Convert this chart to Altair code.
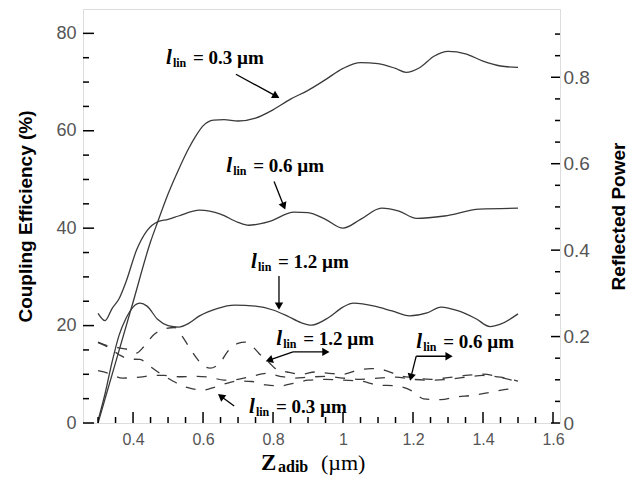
import altair as alt
import pandas as pd

W, H = 477, 414
XDOM = [0.257, 1.62]
YL = [0, 85]
YR = [0, 0.958]
INK = "#3a3a3a"

# ---- solid curves: coupling efficiency (%) ----
x_s03 = [0.30,0.35,0.40,0.45,0.47,0.50,0.53,0.56,0.58,0.60,0.63,0.66,0.70,0.75,0.80,0.85,0.90,0.95,1.00,1.05,1.10,1.15,1.18,1.22,1.26,1.30,1.35,1.40,1.45,1.50]
ce_s03 = [0,12.4,24.8,37.2,41.2,47,52,56.5,59,61,62.2,62.3,62,62.6,64.3,66.5,68.3,70.5,72.8,74,73.8,72.8,72,73,75.3,76.3,75.8,74.3,73.3,73]

x_s06 = [0.30,0.32,0.34,0.36,0.38,0.41,0.44,0.47,0.50,0.53,0.59,0.65,0.70,0.73,0.79,0.86,0.90,0.95,1.00,1.05,1.11,1.16,1.21,1.29,1.39,1.50]
ce_s06 = [22.5,21,23.5,25.5,29,35.5,39.5,41.3,41.8,42.5,43.7,42.9,41.2,40.6,41.4,43.3,43.2,41.8,40,41.8,44.1,43.5,42,42.5,43.9,44.1]

x_s12 = [0.30,0.32,0.34,0.36,0.38,0.40,0.42,0.44,0.47,0.50,0.53,0.56,0.59,0.64,0.69,0.75,0.80,0.84,0.88,0.91,0.96,1.00,1.03,1.09,1.14,1.19,1.24,1.28,1.33,1.38,1.42,1.45,1.50]
ce_s12 = [0.5,6,12.5,18,21.5,23.8,24.6,24,21.3,20,19.7,20.5,22,23.5,24.2,24,23.2,22,20.6,20.1,21.7,23.8,24.6,24,23,22,22.6,23.8,23,21.4,19.8,20.3,22.4]

# ---- dashed curves: reflected power ----
x_dP = [0.30,0.33,0.36,0.39,0.41,0.43,0.46,0.49,0.52,0.54,0.56,0.58,0.60,0.62,0.65,0.67,0.70,0.72,0.74,0.76,0.79,0.81,0.84,0.88,0.92,0.96,1.00,1.04,1.08,1.12,1.16,1.20,1.25,1.30,1.35,1.40,1.45,1.50]
rp_dP = [0.187,0.178,0.174,0.169,0.162,0.176,0.205,0.218,0.221,0.201,0.176,0.152,0.133,0.127,0.141,0.165,0.184,0.187,0.178,0.161,0.139,0.124,0.118,0.113,0.118,0.115,0.113,0.122,0.126,0.122,0.110,0.105,0.101,0.105,0.110,0.113,0.106,0.095]

x_dQ = [0.30,0.33,0.36,0.39,0.42,0.45,0.48,0.51,0.54,0.57,0.60,0.63,0.66,0.70,0.74,0.78,0.82,0.86,0.90,0.95,1.00,1.05,1.10,1.15,1.20,1.23,1.28,1.32,1.37,1.42,1.46,1.50]
rp_dQ = [0.186,0.175,0.158,0.148,0.147,0.130,0.113,0.099,0.086,0.079,0.076,0.082,0.090,0.097,0.096,0.088,0.086,0.092,0.099,0.101,0.099,0.097,0.088,0.086,0.073,0.056,0.054,0.060,0.064,0.071,0.077,0.081]

x_dR = [0.30,0.33,0.37,0.42,0.46,0.49,0.53,0.58,0.62,0.66,0.70,0.74,0.78,0.82,0.86,0.90,0.95,1.00,1.05,1.10,1.15,1.20,1.25,1.30,1.35,1.40,1.45,1.50]
rp_dR = [0.121,0.115,0.104,0.106,0.110,0.110,0.107,0.108,0.106,0.099,0.101,0.108,0.115,0.108,0.104,0.106,0.108,0.104,0.101,0.104,0.106,0.101,0.099,0.101,0.106,0.110,0.106,0.097]

# ---- axis ticks ----
x_major = [0.4, 0.6, 0.8, 1.0, 1.2, 1.4, 1.6]
x_minor = [0.3,0.35,0.45,0.5,0.55,0.65,0.7,0.75,0.85,0.9,0.95,1.05,1.1,1.15,1.25,1.3,1.35,1.45,1.5,1.55]
yl_major = [0, 20, 40, 60, 80]
yl_minor = [5,10,15,25,30,35,45,50,55,65,70,75]
yr_major = [0, 0.2, 0.4, 0.6, 0.8]
yr_minor = [0.05,0.1,0.15,0.25,0.3,0.35,0.45,0.5,0.55,0.65,0.7,0.75,0.85,0.9]

# ---- annotations (left-axis data coordinates) ----
lab_x = [0.494, 0.666, 0.737, 0.809, 1.209, 0.731]
lab_y = [73.8, 51.5, 31.8, 16.0, 15.4, 2.05]
lab_txt = ["= 0.3 µm", "= 0.6 µm", "= 1.2 µm", "= 1.2 µm", "= 0.6 µm", "= 0.3 µm"]

arr_x = [0.694, 0.803, 0.817, 0.857, 0.857, 1.209, 1.209, 0.689]
arr_y = [71.6, 49.6, 30.2, 14.6, 14.6, 13.7, 13.7, 3.5]
arr_x2 = [0.809, 0.831, 0.817, 0.789, 0.951, 1.303, 1.194, 0.651]
arr_y2 = [67.1, 44.5, 24.0, 12.9, 14.6, 13.7, 9.4, 5.5]
arr_ang = [119, 158, 180, 252, 90, 90, 193, 308]

xs = alt.Scale(domain=XDOM, nice=False, zero=False)
yls = alt.Scale(domain=YL, nice=False, zero=False)
yrs = alt.Scale(domain=YR, nice=False, zero=False)

lab_font = "Liberation Sans"
serif = "Liberation Serif"

X_AXIS = alt.Axis(values=x_major, format="~g", ticks=False, domain=False, grid=False,
                  labelPadding=8, labelFont=lab_font, labelFontSize=16, labelColor="#555",
                  labelFlush=False, labelOverlap=False, title=None)

def X(field):
    return alt.X(field, scale=xs, axis=X_AXIS)

solid = pd.concat([
    pd.DataFrame({"x": x_s03, "v": ce_s03, "s": "0.3"}),
    pd.DataFrame({"x": x_s06, "v": ce_s06, "s": "0.6"}),
    pd.DataFrame({"x": x_s12, "v": ce_s12, "s": "1.2"}),
])
dashed = pd.concat([
    pd.DataFrame({"x": x_dP, "v": rp_dP, "s": "P"}),
    pd.DataFrame({"x": x_dQ, "v": rp_dQ, "s": "Q"}),
    pd.DataFrame({"x": x_dR, "v": rp_dR, "s": "R"}),
])

solid_layer = alt.Chart(solid).mark_line(color=INK, strokeWidth=1.3, interpolate="monotone").encode(
    x=X("x:Q"),
    y=alt.Y("v:Q", scale=yls, axis=alt.Axis(values=yl_major, format="d", ticks=False, domain=False, grid=False,
                                            orient="left", labelPadding=7, labelFont=lab_font, labelFontSize=18,
                                            labelColor="#555", labelOverlap=False,
                                            title="Coupling Efficiency (%)", titleFont=lab_font, titleFontSize=19,
                                            titleFontWeight="bold", titleColor="black", titlePadding=20)),
    detail="s:N",
)

dashed_layer = alt.Chart(dashed).mark_line(color=INK, strokeWidth=1.3, strokeDash=[10, 10], interpolate="monotone").encode(
    x=X("x:Q"),
    y=alt.Y("v:Q", scale=yrs, axis=alt.Axis(values=yr_major, format="~g", ticks=False, domain=False, grid=False,
                                            orient="right", labelPadding=3, labelFont=lab_font, labelFontSize=19,
                                            labelColor="#555", labelOverlap=False,
                                            title="Reflected Power", titleFont=lab_font, titleFontSize=19,
                                            titleFontWeight="bold", titleColor="black", titlePadding=20,
                                            titleAngle=270, titleBaseline="top")),
    detail="s:N",
)

def ticks_x(vals, length):
    return alt.Chart(pd.DataFrame({"t": vals})).mark_rule(color="black", strokeWidth=1.5).encode(
        x=X("t:Q"), y=alt.value(H), y2=alt.value(H - length))

def ticks_yl(vals, length):
    return alt.Chart(pd.DataFrame({"t": vals})).mark_rule(color="black", strokeWidth=1.5).encode(
        y=alt.Y("t:Q", scale=yls, axis=None), x=alt.value(0), x2=alt.value(length))

def ticks_yr(vals, length):
    return alt.Chart(pd.DataFrame({"t": vals})).mark_rule(color="black", strokeWidth=1.5).encode(
        y=alt.Y("t:Q", scale=yrs, axis=None), x=alt.value(W), x2=alt.value(W - length))

labels = pd.DataFrame({"x": lab_x, "y": lab_y, "t": lab_txt})
lab_base = alt.Chart(labels).encode(x=X("x:Q"), y=alt.Y("y:Q", scale=yls, axis=None))
lab_l = lab_base.mark_text(text="l", font=serif, fontSize=21, fontStyle="italic", fontWeight="bold",
                           align="left", baseline="alphabetic", color="black")
lab_sub = lab_base.mark_text(text="lin", font=serif, fontSize=12, fontWeight="bold", dx=7, dy=3,
                             align="left", baseline="alphabetic", color="black")
lab_main = lab_base.mark_text(font=serif, fontSize=19, fontWeight="bold", dx=27,
                              align="left", baseline="alphabetic", color="black").encode(text="t:N")

arrows = pd.DataFrame({"x": arr_x, "y": arr_y, "x2": arr_x2, "y2": arr_y2, "a": arr_ang})
arr_lines = alt.Chart(arrows).mark_rule(color="black", strokeWidth=1.3).encode(
    x=X("x:Q"), y=alt.Y("y:Q", scale=yls, axis=None),
    x2="x2:Q", y2="y2:Q")
arr_heads = alt.Chart(arrows).mark_point(shape="triangle-up", filled=True, color="black", size=70, opacity=1).encode(
    x=X("x2:Q"), y=alt.Y("y2:Q", scale=yls, axis=None),
    angle=alt.Angle("a:Q", scale=None))

one = pd.DataFrame({"k": [0]})
t_Z = alt.Chart(one).mark_text(text="Z", font=serif, fontSize=23, fontWeight="bold", align="left",
                               baseline="alphabetic", color="black").encode(x=alt.value(178), y=alt.value(461))
t_adib = alt.Chart(one).mark_text(text="adib", font=serif, fontSize=16, fontWeight="bold", align="left",
                                  baseline="alphabetic", color="black").encode(x=alt.value(195), y=alt.value(463))
t_um = alt.Chart(one).mark_text(text="(µm)", font=serif, fontSize=22, align="left",
                                baseline="alphabetic", color="black").encode(x=alt.value(238), y=alt.value(461))

chart = alt.layer(
    solid_layer, dashed_layer,
    ticks_x(x_major, 11), ticks_x(x_minor, 6),
    ticks_yl(yl_major, 11), ticks_yl(yl_minor, 6),
    ticks_yr(yr_major, 9), ticks_yr(yr_minor, 5),
    arr_lines, arr_heads, lab_l, lab_sub, lab_main,
    t_Z, t_adib, t_um,
).resolve_scale(y="independent").properties(
    width=W, height=H, padding={"left": 8, "top": 1, "right": 5, "bottom": 0}
).configure_view(stroke="black", strokeWidth=2).configure(background="white")

chart.save("out.html", embed_options={"renderer": "svg", "actions": False})
